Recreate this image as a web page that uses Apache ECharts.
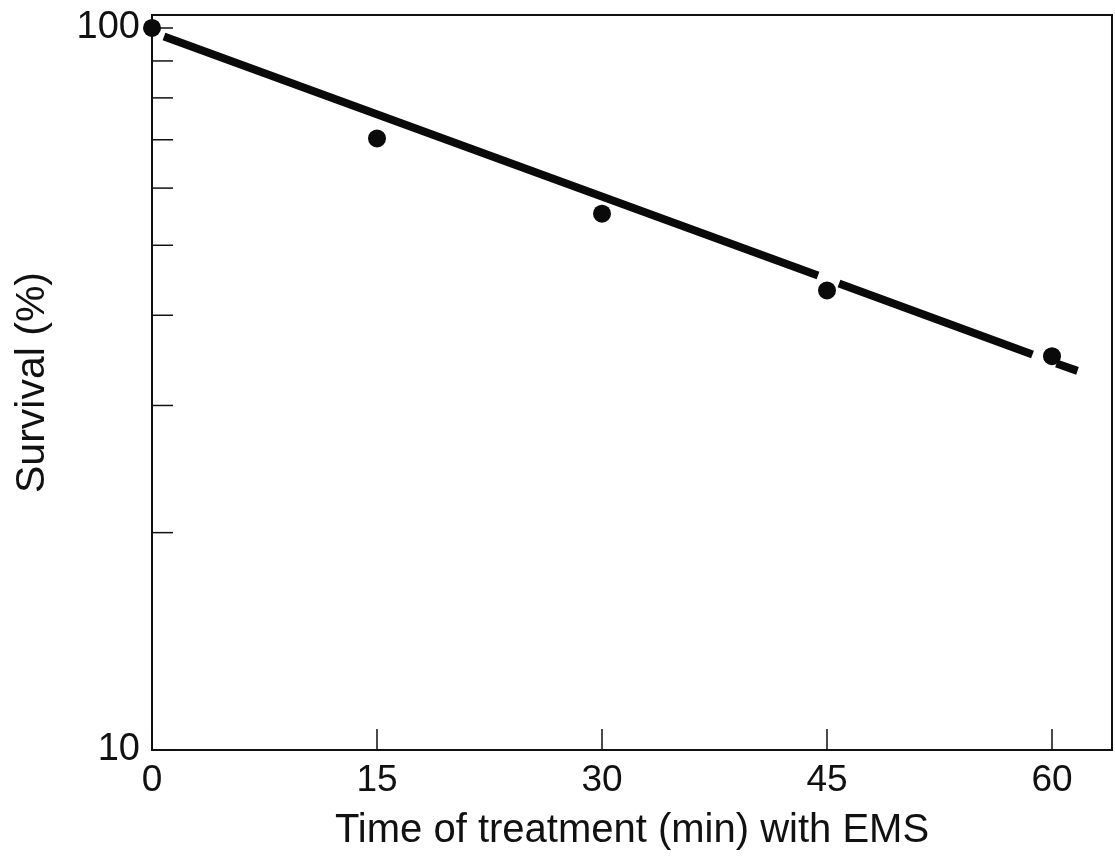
<!DOCTYPE html>
<html>
<head>
<meta charset="utf-8">
<title>Survival vs EMS treatment</title>
<script src="https://cdn.jsdelivr.net/npm/echarts@6/dist/echarts.min.js"></script>
<style>
  html, body { margin: 0; padding: 0; background: #fff; }
  #main { width: 1115px; height: 856px; }
</style>
</head>
<body>
<div id="main"></div>
<script>
// measured points: time (min) / survival (%)
var times = [0, 15, 30, 45, 60];
var survival = [100, 70.3, 55.3, 43.3, 35.1];
// fitted line, drawn broken next to the 45 and 60 min dots (ends)
var fitSegments = [
    [[0.8, 97.3], [44.4, 45.4]],
    [[45.8, 44.25], [58.7, 35.3]],
    [[60.3, 34.3], [61.7, 33.5]]
];
// minor ticks on the log axis
var minorTicks = [20, 30, 40, 50, 60, 70, 80, 90];
var xTicks = 15;

var ink = '#111';
var font = 'Liberation Sans';

var chart = echarts.init(document.getElementById('main'));

var points = times.map(function (t, i) { return [t, survival[i]]; });

var series = [
    {
        // short inward ticks at 20..90
        type: 'custom',
        z: 1,
        silent: true,
        data: minorTicks.map(function (v) { return [0, v]; }),
        renderItem: function (params, api) {
            var p = api.coord([api.value(0), api.value(1)]);
            return {
                type: 'line',
                shape: { x1: p[0], y1: p[1], x2: p[0] + 21, y2: p[1] },
                style: { stroke: ink, lineWidth: 1.5 }
            };
        }
    }
];

fitSegments.forEach(function (seg) {
    series.push({
        type: 'line',
        z: 2,
        data: seg,
        showSymbol: false,
        lineStyle: { color: '#0a0a0a', width: 8, cap: 'butt' }
    });
});

series.push({
    type: 'scatter',
    z: 4,
    clip: false,
    data: points,
    symbolSize: 18,
    itemStyle: { color: '#0a0a0a', opacity: 1 }
});

var option = {
    backgroundColor: '#fff',
    animation: false,
    grid: {
        left: 152, right: 3, top: 15, bottom: 102,
        show: true, borderColor: ink, borderWidth: 2
    },
    xAxis: {
        type: 'value',
        min: 0, max: 64, interval: xTicks,
        axisLine: { show: true, lineStyle: { color: ink, width: 2 } },
        axisTick: { show: true, inside: true, length: 21, lineStyle: { color: ink, width: 1.5 } },
        axisLabel: { color: ink, fontSize: 37, fontFamily: font, margin: 12, showMaxLabel: false },
        splitLine: { show: false },
        name: 'Time of treatment (min) with EMS',
        nameLocation: 'middle',
        nameGap: 61,
        nameTextStyle: { color: ink, fontSize: 40, fontFamily: font }
    },
    yAxis: {
        type: 'log',
        logBase: 10,
        min: 10, max: 104.2,
        axisLine: { show: true, lineStyle: { color: ink, width: 2 } },
        axisTick: { show: true, inside: true, length: 21, lineStyle: { color: ink, width: 1.5 } },
        axisLabel: {
            color: ink, fontSize: 38, fontFamily: font, margin: 12,
            showMaxLabel: false,
            formatter: function (v) {
                var r = Math.round(v);
                return (r === 10 || r === 100) ? String(r) : '';
            }
        },
        splitLine: { show: false },
        name: 'Survival (%)',
        nameLocation: 'middle',
        nameRotate: 90,
        nameGap: 99,
        nameTextStyle: { color: ink, fontSize: 41, fontFamily: font }
    },
    series: series
};

chart.setOption(option);
</script>
</body>
</html>
